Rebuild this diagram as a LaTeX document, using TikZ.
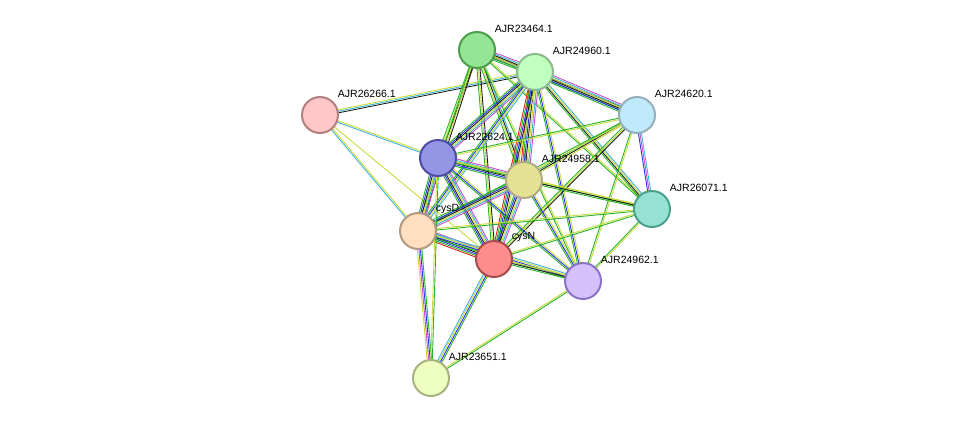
\documentclass[tikz,border=0pt]{standalone}
\usepackage{fontspec}
\setmainfont{Liberation Sans}
\usetikzlibrary{calc,backgrounds}
\definecolor{nb}{RGB}{40,180,40}
\definecolor{cooc}{RGB}{40,50,230}
\definecolor{co}{RGB}{30,30,30}
\definecolor{tm}{RGB}{200,220,60}
\definecolor{db}{RGB}{60,180,215}
\definecolor{ex}{RGB}{200,80,200}
\definecolor{gf}{RGB}{230,30,30}
\definecolor{tealfill}{RGB}{150,225,212}
\definecolor{tealdraw}{RGB}{75,160,140}
\definecolor{lavfill}{RGB}{212,192,250}
\definecolor{lavdraw}{RGB}{140,115,200}
\tikzset{
  prot/.style n args={2}{circle, minimum size=36pt, line width=2pt, fill=#1, draw=#2, inner sep=0pt},
  lab/.style={font=\fontsize{10.5pt}{11pt}\selectfont, inner sep=1pt, label distance=-1pt, xshift=4pt, yshift=3pt},
  edge/.style={line width=0.9pt}
}
\newcommand\edge[4]{%
  \foreach \c [count=\i] in {#4}{%
    \pgfmathsetmacro\o{(\i-(#3+1)/2)*1.5}
    \draw[edge,\c] ($(#1)!\o pt!90:(#2)$) -- ($(#2)!\o pt!-90:(#1)$);
  }}
\begin{document}
\begin{tikzpicture}[x=1pt,y=-1pt]
\useasboundingbox (0,0) rectangle (976,424);

% proteins
\node[prot={green!35!white!90!black}{green!45!black!70}, label={[lab]45:AJR23464.1}] (a23464) at (477,50) {};
\node[prot={green!25!white}{green!40!black!45}, label={[lab]45:AJR24960.1}] (a24960) at (535,72) {};
\node[prot={red!22!white}{red!40!black!50}, label={[lab]45:AJR26266.1}] (a26266) at (320,115) {};
\node[prot={cyan!25!white}{cyan!40!black!50}, label={[lab]45:AJR24620.1}] (a24620) at (637,115) {};
\node[prot={blue!35!white!90!black}{blue!50!black!70}, label={[lab]45:AJR22624.1}] (a22624) at (438,158) {};
\node[prot={yellow!40!white!88!black}{yellow!40!black!60}, label={[lab]45:AJR24958.1}] (a24958) at (524,180) {};
\node[prot={tealfill}{tealdraw}, label={[lab]45:AJR26071.1}] (a26071) at (652,209) {};
\node[prot={orange!25!white}{orange!40!black!50}, label={[lab]45:cysD}] (cysD) at (418,231) {};
\node[prot={red!45!white}{red!50!black!70}, label={[lab]45:cysN}] (cysN) at (494,259) {};
\node[prot={lavfill}{lavdraw}, label={[lab]45:AJR24962.1}] (a24962) at (583,281) {};
\node[prot={lime!25!white}{lime!40!black!50}, label={[lab]45:AJR23651.1}] (a23651) at (431,378) {};

% interactions
\begin{scope}[on background layer]
\edge{a26266}{a24960}{3}{co,db,tm}
\edge{a26266}{a22624}{2}{db,tm}
\edge{a26266}{cysD}{2}{db,tm}
\edge{a26266}{cysN}{1}{tm}
\edge{a23464}{a24960}{6}{nb,cooc,co,tm,db,ex}
\edge{a23464}{a22624}{3}{nb,tm,co}
\edge{a23464}{a24958}{4}{nb,tm,co,db}
\edge{a23464}{cysD}{3}{nb,tm,co}
\edge{a23464}{cysN}{3}{nb,tm,co}
\edge{a23464}{a24620}{3}{nb,tm,co}
\edge{a23464}{a24962}{2}{nb,tm}
\edge{a23464}{a26071}{2}{nb,tm}
\edge{a24960}{a24620}{6}{nb,cooc,co,tm,db,ex}
\edge{a24960}{a22624}{6}{nb,cooc,co,tm,db,ex}
\edge{a24960}{a24958}{7}{gf,nb,cooc,co,tm,db,ex}
\edge{a24960}{cysD}{4}{nb,cooc,tm,db}
\edge{a24960}{cysN}{5}{gf,nb,cooc,co,tm}
\edge{a24960}{a26071}{4}{nb,co,tm,db}
\edge{a24960}{a24962}{3}{nb,cooc,tm}
\edge{a24620}{a22624}{2}{nb,tm}
\edge{a24620}{a24958}{3}{nb,co,tm}
\edge{a24620}{a26071}{3}{cooc,ex,db}
\edge{a24620}{cysD}{2}{nb,tm}
\edge{a24620}{cysN}{3}{nb,tm,co}
\edge{a24620}{a24962}{2}{nb,tm}
\edge{a22624}{a24958}{6}{nb,cooc,co,tm,db,ex}
\edge{a22624}{cysD}{6}{nb,cooc,co,tm,db,ex}
\edge{a22624}{cysN}{6}{nb,cooc,co,tm,db,ex}
\edge{a22624}{a24962}{3}{nb,cooc,tm}
\edge{a22624}{a26071}{2}{nb,tm}
\edge{a24958}{a26071}{3}{nb,co,tm}
\edge{a24958}{cysD}{6}{nb,cooc,co,tm,db,ex}
\edge{a24958}{cysN}{6}{nb,cooc,co,tm,db,ex}
\edge{a24958}{a24962}{3}{nb,cooc,tm}
\edge{cysD}{cysN}{7}{gf,nb,cooc,co,tm,db,ex}
\edge{cysD}{a26071}{2}{nb,tm}
\edge{cysD}{a24962}{4}{nb,cooc,tm,db}
\edge{cysN}{a24962}{3}{nb,co,tm}
\edge{cysN}{a26071}{2}{nb,tm}
\edge{a26071}{a24962}{2}{nb,tm}
\edge{a23651}{cysD}{4}{nb,cooc,ex,tm}
\edge{a23651}{cysN}{4}{nb,cooc,tm,db}
\edge{a23651}{a24962}{2}{nb,tm}
\edge{a23651}{a22624}{2}{nb,tm}
\end{scope}
\end{tikzpicture}
\end{document}
